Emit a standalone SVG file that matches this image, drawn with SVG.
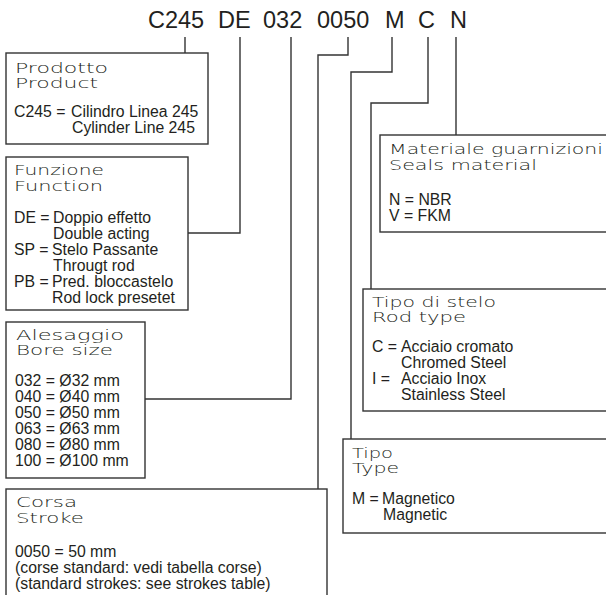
<svg xmlns="http://www.w3.org/2000/svg" width="606" height="595" viewBox="0 0 606 595">
<style>
.box{fill:#fff;stroke:#333;stroke-width:1.4}
.conn{fill:none;stroke:#333;stroke-width:1.4}
.code{font-family:"Liberation Sans",Arial,sans-serif;font-size:23.5px;fill:#231f20}
.title{font-family:"DejaVu Sans",sans-serif;font-size:14px;font-weight:200;fill:#231f20}
.body{font-family:"Liberation Sans",Arial,sans-serif;font-size:15.8px;fill:#231f20}
</style>
<rect width="606" height="595" fill="#fff"/>
<g id="header">
<text class="code" x="148" y="28">C245</text>
<text class="code" x="218" y="28">DE</text>
<text class="code" x="263" y="28">032</text>
<text class="code" x="317" y="28">0050</text>
<text class="code" x="385" y="28">M</text>
<text class="code" x="418" y="28">C</text>
<text class="code" x="450" y="28">N</text>
</g>
<g id="connectors">
<polyline class="conn" points="185,37 185,53"/>
<polyline class="conn" points="240,37 240,233 188,233"/>
<polyline class="conn" points="291,37 291,399 145,399"/>
<polyline class="conn" points="348,37 348,55 318,55 318,489"/>
<polyline class="conn" points="392,37 392,72 351,72 351,439"/>
<polyline class="conn" points="428,37 428,103 371,103 371,289"/>
<polyline class="conn" points="456,37 456,135"/>
</g>
<g id="prodotto">
<rect class="box" x="6" y="53" width="202" height="91"/>
<text class="title" x="15" y="73" textLength="93" lengthAdjust="spacingAndGlyphs">Prodotto</text>
<text class="title" x="15" y="88" textLength="83" lengthAdjust="spacingAndGlyphs">Product</text>
<text class="body" y="117"><tspan x="14">C245 =</tspan><tspan x="71">Cilindro Linea 245</tspan></text>
<text class="body" x="72" y="133">Cylinder Line 245</text>
</g>
<g id="funzione">
<rect class="box" x="6" y="157" width="182" height="153"/>
<text class="title" x="14" y="175" textLength="90" lengthAdjust="spacingAndGlyphs">Funzione</text>
<text class="title" x="14" y="191" textLength="89" lengthAdjust="spacingAndGlyphs">Function</text>
<text class="body" y="223"><tspan x="14">DE =</tspan><tspan x="53">Doppio effetto</tspan></text>
<text class="body" x="53" y="239">Double acting</text>
<text class="body" y="255"><tspan x="14">SP =</tspan><tspan x="52">Stelo Passante</tspan></text>
<text class="body" x="53" y="271">Througt rod</text>
<text class="body" y="287"><tspan x="14">PB =</tspan><tspan x="52">Pred. bloccastelo</tspan></text>
<text class="body" x="52" y="303">Rod lock presetet</text>
</g>
<g id="alesaggio">
<rect class="box" x="6" y="322" width="139" height="156"/>
<text class="title" x="16" y="340" textLength="108" lengthAdjust="spacingAndGlyphs">Alesaggio</text>
<text class="title" x="16" y="355" textLength="97" lengthAdjust="spacingAndGlyphs">Bore size</text>
<text class="body" x="15" y="386">032 = Ø32 mm</text>
<text class="body" x="15" y="402">040 = Ø40 mm</text>
<text class="body" x="15" y="418">050 = Ø50 mm</text>
<text class="body" x="15" y="434">063 = Ø63 mm</text>
<text class="body" x="15" y="450">080 = Ø80 mm</text>
<text class="body" x="15" y="466">100 = Ø100 mm</text>
</g>
<g id="corsa">
<rect class="box" x="6" y="489" width="321" height="120"/>
<text class="title" x="16" y="507" textLength="61" lengthAdjust="spacingAndGlyphs">Corsa</text>
<text class="title" x="16" y="523" textLength="68" lengthAdjust="spacingAndGlyphs">Stroke</text>
<text class="body" x="15" y="557">0050 = 50 mm</text>
<text class="body" x="15" y="573">(corse standard: vedi tabella corse)</text>
<text class="body" x="15" y="589">(standard strokes: see strokes table)</text>
</g>
<g id="materiale">
<rect class="box" x="380" y="135" width="240" height="97"/>
<text class="title" x="389" y="154" textLength="214" lengthAdjust="spacingAndGlyphs">Materiale guarnizioni</text>
<text class="title" x="389" y="170" textLength="148" lengthAdjust="spacingAndGlyphs">Seals material</text>
<text class="body" x="389" y="205">N = NBR</text>
<text class="body" x="389" y="221">V = FKM</text>
</g>
<g id="stelo">
<rect class="box" x="363" y="289" width="260" height="122"/>
<text class="title" x="372" y="307" textLength="124" lengthAdjust="spacingAndGlyphs">Tipo di stelo</text>
<text class="title" x="372" y="322" textLength="94" lengthAdjust="spacingAndGlyphs">Rod type</text>
<text class="body" y="351.5"><tspan x="372">C =</tspan><tspan x="401">Acciaio cromato</tspan></text>
<text class="body" x="401" y="367.5">Chromed Steel</text>
<text class="body" y="383.5"><tspan x="372">I =</tspan><tspan x="401">Acciaio Inox</tspan></text>
<text class="body" x="401" y="399.5">Stainless Steel</text>
</g>
<g id="tipo">
<rect class="box" x="343" y="439" width="280" height="94"/>
<text class="title" x="352" y="458" textLength="41" lengthAdjust="spacingAndGlyphs">Tipo</text>
<text class="title" x="352" y="473" textLength="47" lengthAdjust="spacingAndGlyphs">Type</text>
<text class="body" y="503.5"><tspan x="352">M =</tspan><tspan x="382">Magnetico</tspan></text>
<text class="body" x="383" y="519.5">Magnetic</text>
</g>
</svg>
